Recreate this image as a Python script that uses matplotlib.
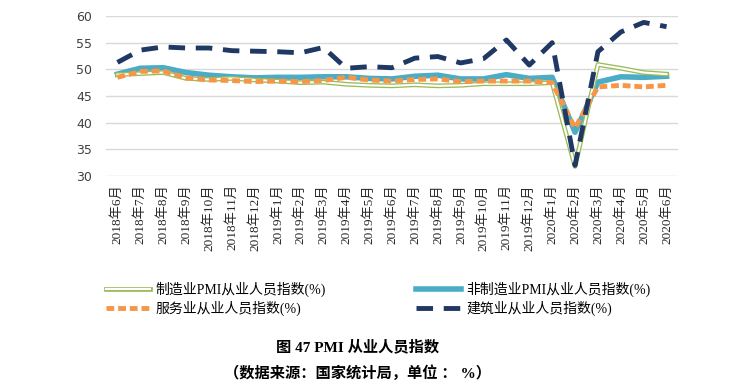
import numpy as np
import matplotlib
matplotlib.use("Agg")
import matplotlib.pyplot as plt
from matplotlib.lines import Line2D
from matplotlib.legend_handler import HandlerTuple

plt.rcParams['font.family'] = ['Liberation Serif', 'Noto Sans CJK SC']

months = ['2018年6月', '2018年7月', '2018年8月', '2018年9月', '2018年10月', '2018年11月',
          '2018年12月', '2019年1月', '2019年2月', '2019年3月', '2019年4月', '2019年5月',
          '2019年6月', '2019年7月', '2019年8月', '2019年9月', '2019年10月', '2019年11月',
          '2019年12月', '2020年1月', '2020年2月', '2020年3月', '2020年4月', '2020年5月',
          '2020年6月']

manufacturing = [49.0, 49.2, 49.4, 48.3, 48.1, 48.3, 48.0, 47.8, 47.5, 47.6, 47.2, 47.0,
                 46.9, 47.1, 46.9, 47.0, 47.3, 47.3, 47.3, 47.5, 31.8, 50.9, 50.2, 49.4, 49.1]
non_manufacturing = [49.1, 50.2, 50.3, 49.4, 48.9, 48.6, 48.4, 48.5, 48.5, 48.6, 48.6, 48.3,
                     48.2, 48.7, 48.9, 48.2, 48.2, 49.0, 48.3, 48.5, 38.2, 47.6, 48.6, 48.5, 48.7]
services = [48.5, 49.6, 49.7, 48.4, 48.0, 47.9, 47.7, 47.8, 47.7, 47.9, 48.5, 48.0,
            47.8, 48.1, 48.2, 47.7, 47.8, 47.8, 47.8, 47.5, 39.0, 46.7, 47.0, 46.7, 47.0]
construction = [51.3, 53.6, 54.2, 54.0, 54.0, 53.5, 53.4, 53.3, 53.1, 54.1, 50.2, 50.5,
                50.3, 52.1, 52.4, 51.2, 52.0, 55.5, 50.8, 55.0, 32.0, 53.3, 57.0, 58.8, 58.0]

x = np.arange(len(months))

fig = plt.figure(figsize=(7.44, 3.92), dpi=100)
ax = fig.add_axes([106 / 744, 1 - 176 / 392, 572 / 744, 160 / 392])

green = '#9bbb59'
blue = '#4bacc6'
orange = '#f79646'
navy = '#1f3864'

ax.plot(x, non_manufacturing, color=blue, lw=4, zorder=2)
ax.plot(x, manufacturing, color=green, lw=3.4, zorder=3, solid_joinstyle='round')
ax.plot(x, manufacturing, color='white', lw=1.5, zorder=3.1, solid_joinstyle='round')
ax.plot(x, services, color=orange, lw=3.5, ls=(0, (1.6, 0.8)), zorder=4)
ax.plot(x, construction, color=navy, lw=3.5, ls=(0, (3.4, 2.2)), zorder=5)

ax.set_xlim(-0.5, len(months) - 0.5)
ax.set_ylim(30, 60)
ax.set_yticks(np.arange(30, 61, 5))
ax.yaxis.grid(True, color='#d9d9d9', lw=1)
ax.set_axisbelow(True)
for s in ax.spines.values():
    s.set_visible(False)
ax.tick_params(length=0)
ax.set_xticks(x)
ax.set_xticklabels(months, rotation=90, fontsize=9.5, color='#262626')
ax.tick_params(axis='x', pad=6)
for lab in ax.get_yticklabels():
    lab.set_family(['DejaVu Sans'])
    lab.set_fontsize(9)
    lab.set_color('#404040')
ax.tick_params(axis='y', pad=10)

h_mfg = (Line2D([], [], color=green, lw=3.4), Line2D([], [], color='white', lw=1.5))
h_non = Line2D([], [], color=blue, lw=4)
h_srv = Line2D([], [], color=orange, lw=3.5, ls=(0, (1.6, 0.8)))
h_con = Line2D([], [], color=navy, lw=3.5, ls=(0, (3.4, 2.2)))
fig.legend([h_mfg, h_srv, h_non, h_con],
           ['制造业PMI从业人员指数(%)', '服务业从业人员指数(%)',
            '非制造业PMI从业人员指数(%)', '建筑业从业人员指数(%)'],
           handler_map={tuple: HandlerTuple(ndivide=1, pad=0)},
           ncol=2, loc='upper left', bbox_to_anchor=(100 / 744, 1 - 276 / 392),
           frameon=False, fontsize=10, handlelength=3.2, handletextpad=0.4,
           columnspacing=6.5, labelspacing=0.3, borderaxespad=0)

fig.text(358 / 744, 1 - 347 / 392, '图 47 PMI 从业人员指数', ha='center', va='center',
         fontsize=11, fontweight='bold')
fig.text(358 / 744, 1 - 373 / 392, '（数据来源：国家统计局，单位 ： %）', ha='center', va='center',
         fontsize=11, fontweight='bold')

fig.savefig('out.png', dpi=100)
